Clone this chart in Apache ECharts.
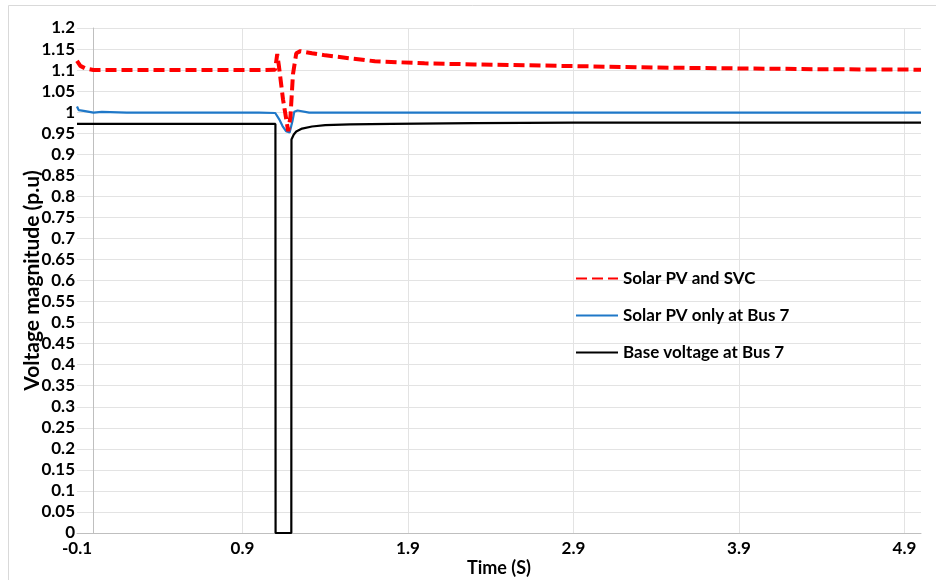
<!DOCTYPE html>
<html>
<head>
<meta charset="utf-8">
<script src="https://cdn.jsdelivr.net/npm/echarts@6/dist/echarts.min.js"></script>
<style>html,body{margin:0;padding:0;background:#fff;}#c{width:936px;height:580px;}</style>
</head>
<body>
<div id="c"></div>
<script>
const seriesNames = ["Solar PV and SVC", "Solar PV only at Bus 7", "Base voltage at Bus 7"];
const xLabelValues = [-0.1, 0.9, 1.9, 2.9, 3.9, 4.9];
const xGridValues = [0, 0.9, 1.9, 2.9, 3.9, 4.9];

const redT = [-0.1, -0.08, -0.05, 0.0, 0.5, 1.0, 1.097, 1.11, 1.12, 1.145, 1.176, 1.19, 1.205, 1.225, 1.25, 1.32, 1.4, 1.55, 1.7, 2.0, 2.3, 2.9, 3.4, 3.9, 4.4, 5.0];
const redV = [1.122, 1.110, 1.104, 1.100, 1.100, 1.100, 1.101, 1.138, 1.110, 1.030, 0.955, 0.990, 1.090, 1.140, 1.145, 1.140, 1.135, 1.128, 1.121, 1.116, 1.1135, 1.1095, 1.106, 1.104, 1.102, 1.101];

const blueT = [-0.1, -0.09, -0.08, -0.06, 0.0, 0.05, 0.2, 1.0, 1.098, 1.122, 1.142, 1.163, 1.185, 1.193, 1.202, 1.213, 1.233, 1.303, 1.5, 5.0];
const blueV = [1.0136, 1.005, 1.007, 1.003, 0.999, 1.0005, 0.999, 0.999, 0.998, 0.983, 0.967, 0.955, 0.952, 0.952, 0.979, 1.001, 1.004, 0.999, 0.999, 0.999];

const blackT = [-0.1, 1.099, 1.1, 1.195, 1.196, 1.21, 1.225, 1.26, 1.32, 1.4, 1.55, 1.8, 2.3, 2.9, 3.9, 5.0];
const blackV = [0.972, 0.972, 0, 0, 0.935, 0.947, 0.954, 0.961, 0.966, 0.969, 0.971, 0.972, 0.974, 0.975, 0.975, 0.975];

function pairs(t, v) { return t.map((x, i) => [x, v[i]]); }

const font = "Lato, 'Open Sans', sans-serif";
const chart = echarts.init(document.getElementById('c'), null, {renderer: 'canvas'});
chart.setOption({
  animation: false,
  backgroundColor: '#fff',
  graphic: [{
    type: 'rect', shape: {x: 8.5, y: 5.5, width: 940, height: 600},
    style: {fill: 'none', stroke: '#d9d9d9', lineWidth: 1}, silent: true
  }],
  grid: {left: 77, right: 15, top: 28, bottom: 47, containLabel: false, outerBoundsMode: 'none'},
  legend: {
    orient: 'vertical', left: 570, top: 265,
    itemWidth: 42, itemHeight: 14, itemGap: 20,
    itemStyle: {opacity: 0},
    textStyle: {fontFamily: font, fontWeight: 'bold', fontSize: 17, color: '#000'},
    data: seriesNames
  },
  xAxis: {
    type: 'value', min: -0.1, max: 5.0,
    name: 'Time (S)', nameLocation: 'middle', nameGap: 26, nameMoveOverlap: false,
    nameTextStyle: {fontFamily: font, fontWeight: 'bold', fontSize: 18, color: '#000'},
    axisLine: {show: true, onZero: false, lineStyle: {color: '#bfbfbf', width: 1}},
    axisTick: {show: false, customValues: xGridValues},
    axisLabel: {customValues: xLabelValues, margin: 7, fontFamily: font, fontWeight: 'bold', fontSize: 17, color: '#000',
      formatter: v => String(Math.round(v * 10) / 10)},
    splitLine: {show: true, lineStyle: {color: '#e3e3e3', width: 1}}
  },
  yAxis: {
    type: 'value', min: 0, max: 1.2, interval: 0.05,
    name: 'Voltage magnitude (p.u)', nameLocation: 'middle', nameGap: 34, nameMoveOverlap: false,
    nameTextStyle: {fontFamily: font, fontWeight: 'bold', fontSize: 21, color: '#000'},
    axisLine: {show: true, lineStyle: {color: '#bfbfbf', width: 1}},
    axisTick: {show: false},
    axisLabel: {margin: 2, fontFamily: font, fontWeight: 'bold', fontSize: 17, color: '#000',
      formatter: v => String(Math.round(v * 100) / 100)},
    splitLine: {show: true, lineStyle: {color: '#e3e3e3', width: 1}}
  },
  series: [
    {name: seriesNames[0], type: 'line', symbol: 'none', smooth: false, z: 3,
      data: pairs(redT, redV), color: '#ff0000',
      lineStyle: {color: '#ff0000', width: 4, type: [11, 5]}},
    {name: seriesNames[1], type: 'line', symbol: 'none', smooth: false, z: 2,
      data: pairs(blueT, blueV), color: '#1f78c8',
      lineStyle: {color: '#1f78c8', width: 2.2}},
    {name: seriesNames[2], type: 'line', symbol: 'none', smooth: false, z: 1,
      data: pairs(blackT, blackV), color: '#000',
      lineStyle: {color: '#000', width: 2.2}}
  ]
});
</script>
</body>
</html>
